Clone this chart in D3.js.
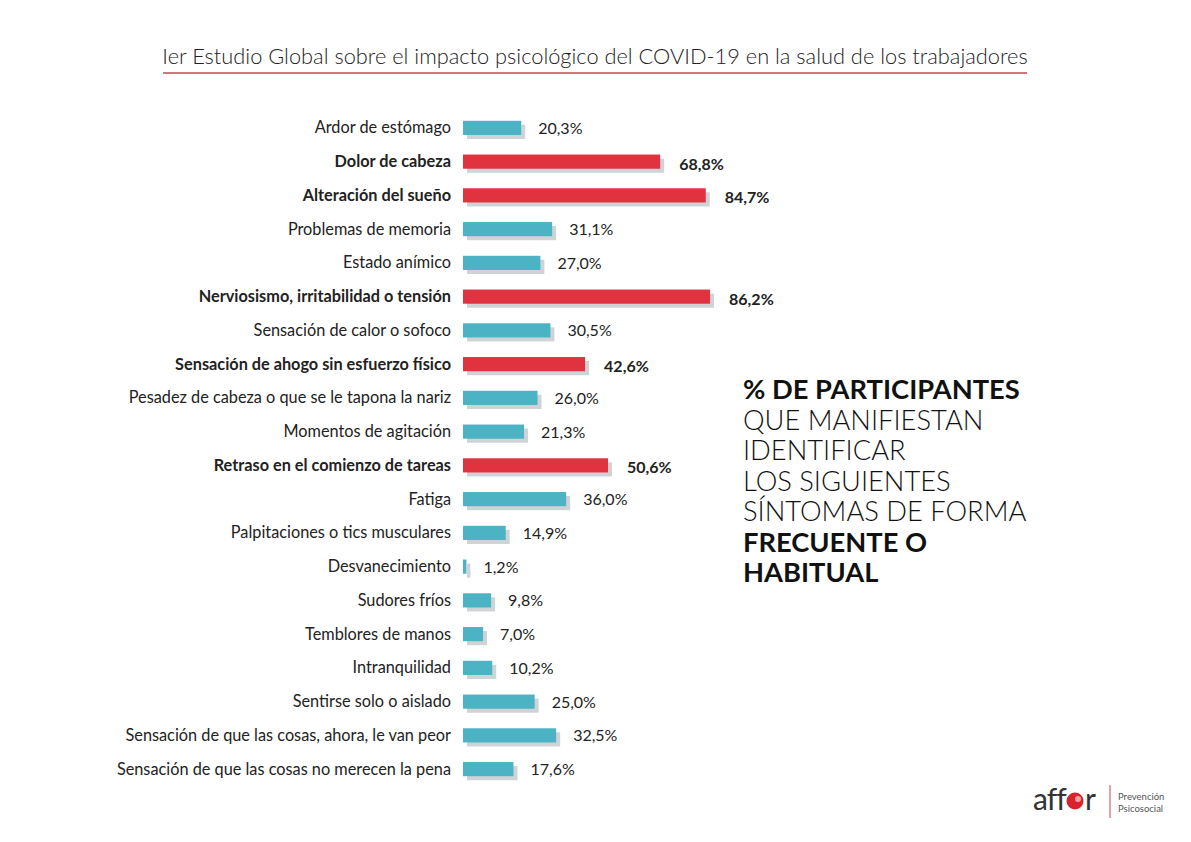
<!DOCTYPE html>
<html>
<head>
<meta charset="utf-8">
<script src="https://cdn.jsdelivr.net/npm/d3@7"></script>
<style>
  body { margin: 0; background: #fff; }
  svg { display: block; font-family: Lato, "Open Sans", sans-serif; }
</style>
</head>
<body>
<svg width="1191" height="842"></svg>
<script>
// data
var sintomas = [
  'Ardor de estómago',
  'Dolor de cabeza',
  'Alteración del sueño',
  'Problemas de memoria',
  'Estado anímico',
  'Nerviosismo, irritabilidad o tensión',
  'Sensación de calor o sofoco',
  'Sensación de ahogo sin esfuerzo físico',
  'Pesadez de cabeza o que se le tapona la nariz',
  'Momentos de agitación',
  'Retraso en el comienzo de tareas',
  'Fatiga',
  'Palpitaciones o tics musculares',
  'Desvanecimiento',
  'Sudores fríos',
  'Temblores de manos',
  'Intranquilidad',
  'Sentirse solo o aislado',
  'Sensación de que las cosas, ahora, le van peor',
  'Sensación de que las cosas no merecen la pena'
];
var porcentajes = [20.3, 68.8, 84.7, 31.1, 27.0, 86.2, 30.5, 42.6, 26.0, 21.3,
                   50.6, 36.0, 14.9, 1.2, 9.8, 7.0, 10.2, 25.0, 32.5, 17.6];
var destacados = [false, true, true, false, false, true, false, true, false, false,
                  true, false, false, false, false, false, false, false, false, false];

var textoLineas = ['% DE PARTICIPANTES', 'QUE MANIFIESTAN', 'IDENTIFICAR',
                   'LOS SIGUIENTES', 'SÍNTOMAS DE FORMA', 'FRECUENTE O', 'HABITUAL'];
var textoNegrita = [true, false, false, false, false, true, true];

var svg = d3.select('svg');

var data = sintomas.map(function(s, i) {
  return { name: s, value: porcentajes[i], bold: destacados[i] };
});

var x = d3.scaleLinear().domain([0, 100]).range([463, 463 + 286.6]);
var y = d3.scaleBand().domain(sintomas).range([111, 786]).paddingInner(0.58).paddingOuter(0.29);

// title
svg.append('text')
    .attr('x', 595)
    .attr('y', 64)
    .attr('text-anchor', 'middle')
    .style('font-size', '21.8px')
    .style('font-weight', 300)
    .style('fill', '#222')
    .text('Ier Estudio Global sobre el impacto psicológico del COVID-19 en la salud de los trabajadores');

svg.append('line')
    .attr('x1', 163)
    .attr('x2', 1027)
    .attr('y1', 73)
    .attr('y2', 73)
    .style('stroke', '#c9434d')
    .style('stroke-width', 1.5);

var rows = svg.selectAll('g.row')
    .data(data)
  .enter().append('g')
    .attr('class', 'row');

// shadow
rows.append('rect')
    .attr('x', x(0) + 4)
    .attr('y', function(d) { return y(d.name) + 4; })
    .attr('width', function(d) { return Math.max(x(d.value) - x(0), 2); })
    .attr('height', y.bandwidth())
    .style('fill', '#cfd3d6');

rows.append('rect')
    .attr('x', x(0))
    .attr('y', function(d) { return y(d.name); })
    .attr('width', function(d) { return Math.max(x(d.value) - x(0), 2); })
    .attr('height', y.bandwidth())
    .style('fill', function(d) { return d.bold ? '#e0323f' : '#4bb3c4'; });

rows.append('text')
    .attr('x', 451)
    .attr('y', function(d) { return y(d.name) + y.bandwidth() / 2 + 5.5; })
    .attr('text-anchor', 'end')
    .style('font-size', '16.3px')
    .style('font-weight', function(d) { return d.bold ? 700 : 400; })
    .style('fill', '#222')
    .text(function(d) { return d.name; });

rows.append('text')
    .attr('x', function(d) { return x(d.value) + (d.bold ? 19 : 17); })
    .attr('y', function(d) { return y(d.name) + y.bandwidth() / 2 + (d.bold ? 8 : 6); })
    .style('font-size', '16px')
    .style('font-weight', function(d) { return d.bold ? 700 : 400; })
    .style('fill', '#222')
    .text(function(d) { return d3.format('.1f')(d.value).replace('.', ',') + '%'; });

// side text block
svg.selectAll('text.side')
    .data(textoLineas)
  .enter().append('text')
    .attr('class', 'side')
    .attr('x', 743)
    .attr('y', function(d, i) { return 399 + i * 30.5; })
    .style('font-size', '27.3px')
    .style('font-weight', function(d, i) { return textoNegrita[i] ? 700 : 300; })
    .style('fill', '#111')
    .text(function(d) { return d; });

// logo
var logo = svg.append('g');
logo.append('text')
    .attr('x', 1033)
    .attr('y', 810)
    .style('font-size', '30px')
    .style('font-weight', 400)
    .style('fill', '#333')
    .style('letter-spacing', '-1px')
    .text('aff');
logo.append('circle')
    .attr('cx', 1075)
    .attr('cy', 801)
    .attr('r', 8.5)
    .style('fill', '#d8232f');
logo.append('circle')
    .attr('cx', 1078)
    .attr('cy', 799)
    .attr('r', 3)
    .style('fill', '#f3a0a5');
logo.append('text')
    .attr('x', 1085)
    .attr('y', 810)
    .style('font-size', '30px')
    .style('fill', '#333')
    .text('r');
logo.append('line')
    .attr('x1', 1110)
    .attr('x2', 1110)
    .attr('y1', 785)
    .attr('y2', 818)
    .style('stroke', '#c9434d')
    .style('stroke-width', 1);
logo.append('text')
    .attr('x', 1118)
    .attr('y', 800)
    .style('font-size', '9.5px')
    .style('fill', '#555')
    .text('Prevención');
logo.append('text')
    .attr('x', 1118)
    .attr('y', 812)
    .style('font-size', '9.5px')
    .style('fill', '#555')
    .text('Psicosocial');
</script>
</body>
</html>
